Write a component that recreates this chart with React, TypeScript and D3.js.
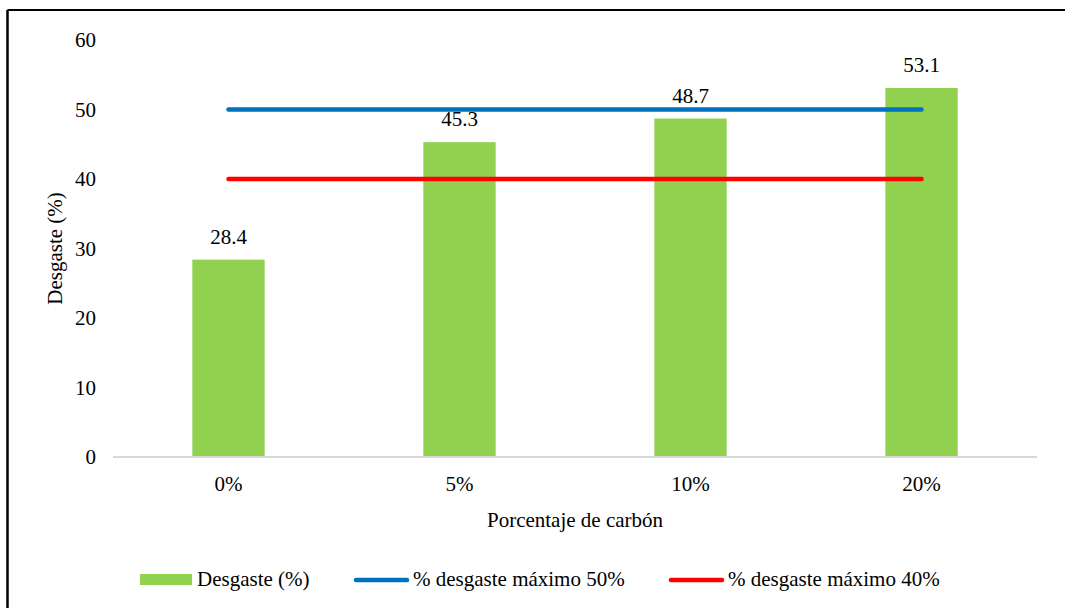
import React from "react";
import * as d3 from "d3";

const categories = ["0%", "5%", "10%", "20%"];
const desgaste = [28.4, 45.3, 48.7, 53.1];
const limit50 = [50, 50, 50, 50];
const limit40 = [40, 40, 40, 40];
const yTicks = [0, 10, 20, 30, 40, 50, 60];

const W = 1065;
const H = 608;
const FONT = '"Liberation Serif", Tinos, "Times New Roman", "DejaVu Serif", serif';
const FS = 21;

export default function App() {
  const x = d3.scaleBand<string>().domain(categories).range([113, 1037]).paddingInner(0.687).paddingOuter(0.3435);
  const y = d3.scaleLinear().domain([0, 60]).range([457, 40]);
  const cx = (c: string) => (x(c) as number) + x.bandwidth() / 2;
  const line = d3
    .line<number>()
    .x((_, i) => cx(categories[i]))
    .y((d) => y(d));

  const t = { fontSize: FS, fill: "#000", style: { fontFamily: FONT } };

  return (
    <svg width={W} height={H} style={{ position: "absolute", left: 0, top: 0, background: "#fff", fontFamily: FONT }}>
      <rect x={0} y={0} width={W} height={H} fill="#fff" />
      {/* frame */}
      <line x1={7.5} y1={10} x2={W} y2={10} stroke="#000" strokeWidth={2.2} />
      <line x1={7.5} y1={10} x2={7.5} y2={H} stroke="#000" strokeWidth={2.5} />

      {/* y tick labels */}
      {yTicks.map((v) => (
        <text key={v} x={96} y={y(v)} dy="0.34em" textAnchor="end" {...t}>
          {v}
        </text>
      ))}

      {/* bars */}
      {desgaste.map((v, i) => (
        <rect key={i} x={x(categories[i])} y={y(v)} width={x.bandwidth()} height={y(0) - y(v)} fill="#92D050" />
      ))}

      {/* axis */}
      <line x1={113} x2={1037} y1={y(0)} y2={y(0)} stroke="#D9D9D9" strokeWidth={2} />

      {/* lines */}
      <path d={line(limit50) || ""} stroke="#0070C0" strokeWidth={4.5} strokeLinecap="round" fill="none" />
      <path d={line(limit40) || ""} stroke="#FF0000" strokeWidth={4.5} strokeLinecap="round" fill="none" />

      {/* data labels */}
      {desgaste.map((v, i) => (
        <text key={i} x={cx(categories[i])} y={y(v) - 16} textAnchor="middle" {...t}>
          {v.toFixed(1)}
        </text>
      ))}

      {/* x tick labels */}
      {categories.map((c) => (
        <text key={c} x={cx(c)} y={y(0) + 34} textAnchor="middle" {...t}>
          {c}
        </text>
      ))}

      {/* axis titles */}
      <text x={575} y={527} textAnchor="middle" {...t}>
        Porcentaje de carbón
      </text>
      <text transform={`translate(62,${(y(0) + y(60)) / 2}) rotate(-90)`} textAnchor="middle" {...t}>
        Desgaste (%)
      </text>

      {/* legend */}
      <rect x={140} y={574} width={52} height={11} fill="#92D050" />
      <text x={197} y={586} {...t}>Desgaste (%)</text>
      <line x1={356} x2={407} y1={580} y2={580} stroke="#0070C0" strokeWidth={4.5} strokeLinecap="round" />
      <text x={413} y={586} {...t}>% desgaste máximo 50%</text>
      <line x1={671} x2={722} y1={580} y2={580} stroke="#FF0000" strokeWidth={4.5} strokeLinecap="round" />
      <text x={728} y={586} {...t}>% desgaste máximo 40%</text>
    </svg>
  );
}
